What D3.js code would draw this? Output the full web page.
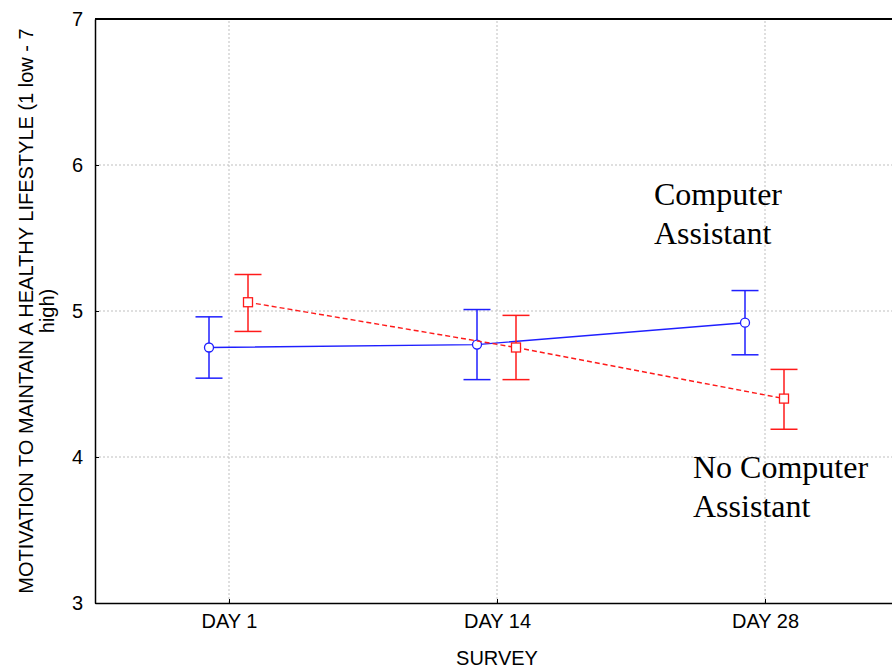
<!DOCTYPE html>
<html lang="en">
<head>
<meta charset="utf-8" />
<title>Motivation by survey</title>
<script src="https://cdnjs.cloudflare.com/ajax/libs/d3/7.8.5/d3.min.js"></script>
<style>
  body { margin: 0; background: #fff; }
  svg { display: block; }
</style>
</head>
<body>
<svg id="chart" width="892" height="668"></svg>
<script>
// ---- data ----
const surveys = ["DAY 1", "DAY 14", "DAY 28"];
const yTicks = [3, 4, 5, 6, 7];

const assistMean = [4.75, 4.77, 4.92];
const assistLow  = [4.54, 4.53, 4.70];
const assistHigh = [4.96, 5.01, 5.14];

const noAssistMean = [5.06, 4.75, 4.40];
const noAssistLow  = [4.86, 4.53, 4.19];
const noAssistHigh = [5.25, 4.97, 4.60];

const svg = d3.select("#chart");
const margin = {top: 19, left: 95, bottom: 65};
const plotW = 804, plotH = 668 - margin.top - margin.bottom;
const sans = "'Liberation Sans', Arial, sans-serif";
const serif = "'Liberation Serif', 'Times New Roman', serif";

const x = d3.scalePoint().domain(surveys).range([margin.left, margin.left + plotW]).padding(0.5);
const y = d3.scaleLinear().domain([3, 7]).range([margin.top + plotH, margin.top]);

// grid
const grid = svg.append("g");
grid.selectAll("line.v").data(surveys).enter().append("line")
  .attr("x1", d => x(d)).attr("x2", d => x(d))
  .attr("y1", y(3)).attr("y2", y(7))
  .attr("stroke", "#bfbfbf").attr("stroke-dasharray", "2,2");
grid.selectAll("line.h").data(yTicks.slice(1, -1)).enter().append("line")
  .attr("x1", margin.left).attr("x2", margin.left + plotW)
  .attr("y1", d => y(d)).attr("y2", d => y(d))
  .attr("stroke", "#bfbfbf").attr("stroke-dasharray", "2,2");

// axes
const yAxis = svg.append("g").attr("transform", `translate(${margin.left},0)`)
  .call(d3.axisLeft(y).tickValues(yTicks).tickFormat(d3.format("d")).tickSizeInner(-4).tickSizeOuter(0).tickPadding(12));
const xAxis = svg.append("g").attr("transform", `translate(0,${y(3)})`)
  .call(d3.axisBottom(x).tickSizeInner(-4).tickSizeOuter(0).tickPadding(11));
[yAxis, xAxis].forEach(a => {
  a.select(".domain").attr("stroke", "#000").attr("stroke-width", 1.5);
  a.selectAll(".tick line").attr("stroke", "#000");
  a.selectAll(".tick text").style("font-family", sans).style("font-size", "20px").attr("fill", "#000");
});
svg.append("line")
  .attr("x1", margin.left).attr("x2", margin.left + plotW)
  .attr("y1", y(7)).attr("y2", y(7))
  .attr("stroke", "#000").attr("stroke-width", 2);

// series
const series = [
  {mean: assistMean, low: assistLow, high: assistHigh, color: "#1f1fff", dx: -20, dash: null, marker: "circle"},
  {mean: noAssistMean, low: noAssistLow, high: noAssistHigh, color: "#ff1a1a", dx: 19, dash: "5,3", marker: "square"}
];

series.forEach(s => {
  const pts = surveys.map((c, i) => ({x: x(c) + s.dx, m: s.mean[i], lo: s.low[i], hi: s.high[i]}));
  const g = svg.append("g");

  g.append("path").datum(pts)
    .attr("fill", "none").attr("stroke", s.color).attr("stroke-width", 1.4)
    .attr("stroke-dasharray", s.dash)
    .attr("d", d3.line().x(d => d.x).y(d => y(d.m)));

  const cap = 13.5;
  pts.forEach(p => {
    g.append("line").attr("x1", p.x).attr("x2", p.x).attr("y1", y(p.lo)).attr("y2", y(p.hi))
      .attr("stroke", s.color).attr("stroke-width", 1.5);
    [p.lo, p.hi].forEach(v => {
      g.append("line").attr("x1", p.x - cap).attr("x2", p.x + cap).attr("y1", y(v)).attr("y2", y(v))
        .attr("stroke", s.color).attr("stroke-width", 1.5);
    });
    if (s.marker === "circle") {
      g.append("circle").attr("cx", p.x).attr("cy", y(p.m)).attr("r", 4.5)
        .attr("fill", "#fff").attr("stroke", s.color).attr("stroke-width", 1.3);
    } else {
      g.append("rect").attr("x", p.x - 4.5).attr("y", y(p.m) - 4.5).attr("width", 9).attr("height", 9)
        .attr("fill", "#fff").attr("stroke", s.color).attr("stroke-width", 1.3);
    }
  });
});

// annotations
[["Computer", 654, 205], ["Assistant", 654, 244], ["No Computer", 693, 478], ["Assistant", 693, 517]]
  .forEach(([t, tx, ty]) => {
    svg.append("text").attr("x", tx).attr("y", ty).text(t)
      .style("font-family", serif).style("font-size", "32px").attr("fill", "#000");
  });

// axis titles
svg.append("text").attr("x", x("DAY 14")).attr("y", 665).attr("text-anchor", "middle")
  .text("SURVEY").style("font-family", sans).style("font-size", "20px");
const yl = svg.append("text").attr("transform", `translate(33,${(y(3) + y(7)) / 2}) rotate(-90)`)
  .attr("text-anchor", "middle").style("font-family", sans).style("font-size", "20px");
yl.append("tspan").attr("x", 0).attr("y", 0).text("MOTIVATION TO MAINTAIN A HEALTHY LIFESTYLE (1 low - 7");
yl.append("tspan").attr("x", 0).attr("y", 21).text("high)");
</script>
</body>
</html>
